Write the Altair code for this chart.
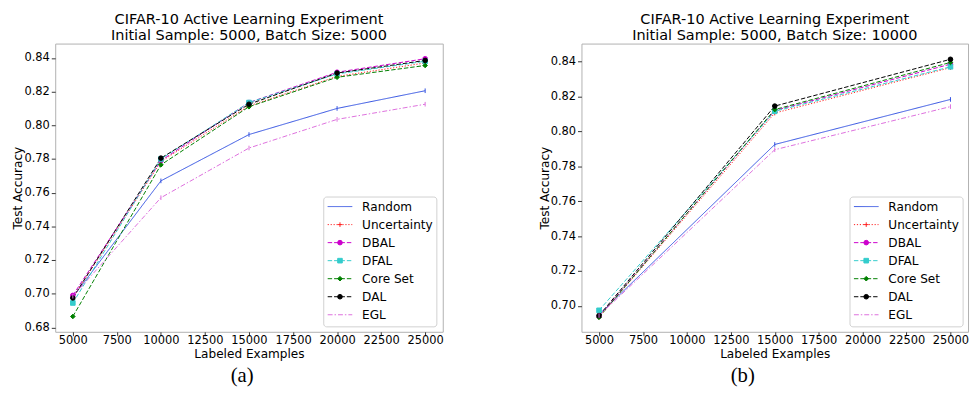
import altair as alt
import pandas as pd

methods = ["Random", "Uncertainty", "DBAL", "DFAL", "Core Set", "DAL", "EGL"]
colors = ["#3050e0", "#ff2020", "#cc00cc", "#33cccc", "#008000", "#000000", "#dd6fdd"]
dashes = [[1, 0], [1.2, 1.8], [4.5, 2], [4.5, 2], [4.5, 2], [4.5, 2], [5, 2, 1.5, 2]]
shapes = ["M0,-1V1", "M-1,0H1M0,-1V1", "circle", "square", "diamond", "circle", "M0,-1V1"]
sizes = [22, 22, 14, 14, 18, 14, 22]

# Panel (a): batch size 5000
x_a = [5000, 10000, 15000, 20000, 25000]
a_random = [0.6980, 0.7670, 0.7945, 0.8100, 0.8205]
a_uncertainty = [0.6975, 0.7785, 0.8115, 0.8290, 0.8370]
a_dbal = [0.6990, 0.7790, 0.8135, 0.8315, 0.8395]
a_dfal = [0.6945, 0.7800, 0.8135, 0.8305, 0.8380]
a_coreset = [0.6865, 0.7765, 0.8110, 0.8285, 0.8355]
a_dal = [0.6975, 0.7805, 0.8125, 0.8310, 0.8385]
a_egl = [0.6985, 0.7570, 0.7865, 0.8035, 0.8125]

# Panel (b): batch size 10000
x_b = [5000, 15000, 25000]
b_random = [0.6950, 0.7925, 0.8183]
b_uncertainty = [0.6935, 0.8105, 0.8365]
b_dbal = [0.6940, 0.8120, 0.8385]
b_dfal = [0.6975, 0.8115, 0.8370]
b_coreset = [0.6935, 0.8125, 0.8395]
b_dal = [0.6945, 0.8145, 0.8413]
b_egl = [0.6945, 0.7895, 0.8142]

x_ticks = [5000, 7500, 10000, 12500, 15000, 17500, 20000, 22500, 25000]
y_ticks_a = [0.68, 0.70, 0.72, 0.74, 0.76, 0.78, 0.80, 0.82, 0.84]
y_ticks_b = [0.70, 0.72, 0.74, 0.76, 0.78, 0.80, 0.82, 0.84]

titles_a = ["CIFAR-10 Active Learning Experiment", "Initial Sample: 5000, Batch Size: 5000"]
titles_b = ["CIFAR-10 Active Learning Experiment", "Initial Sample: 5000, Batch Size: 10000"]


def long_df(xs, series):
    rows = []
    for name, vals in zip(methods, series):
        for x, v in zip(xs, vals):
            rows.append({"method": name, "examples": x, "acc": v})
    return pd.DataFrame(rows)


df_a = long_df(x_a, [a_random, a_uncertainty, a_dbal, a_dfal, a_coreset, a_dal, a_egl])
df_b = long_df(x_b, [b_random, b_uncertainty, b_dbal, b_dfal, b_coreset, b_dal, b_egl])
legend_df = pd.DataFrame({"method": methods, "i": list(range(len(methods)))})

color_scale = alt.Scale(domain=methods, range=colors)
dash_scale = alt.Scale(domain=methods, range=dashes)
shape_scale = alt.Scale(domain=methods, range=shapes)
size_scale = alt.Scale(domain=methods, range=sizes)

FONT = "DejaVu Sans"


def panel(df, titles, ydomain, yticks, width, height, caption, cap_x):
    xenc = alt.X(
        "examples:Q",
        scale=alt.Scale(domain=[4000, 26000], nice=False, zero=False),
        axis=alt.Axis(values=x_ticks, format="d", title="Labeled Examples",
                      labelPadding=-1, labelOverlap=False,
                      titleY=22, titleBaseline="middle"),
    )
    yenc = alt.Y(
        "acc:Q",
        scale=alt.Scale(domain=ydomain, nice=False, zero=False),
        axis=alt.Axis(values=yticks, tickCount=len(yticks), format=".2f",
                      title="Test Accuracy", labelOverlap=False, labelSeparation=0,
                      labelBound=False,
                      titleX=-38, titleY=height / 2, titleBaseline="middle"),
    )
    col = alt.Color("method:N", scale=color_scale, legend=None)
    base = alt.Chart(df)
    lines = base.mark_line(strokeWidth=1.0).encode(
        x=xenc, y=yenc, color=col,
        strokeDash=alt.StrokeDash("method:N", scale=dash_scale, legend=None),
    )
    pts = base.mark_point(filled=True, strokeWidth=1, opacity=1).encode(
        x="examples:Q", y="acc:Q", color=col,
        stroke=alt.Stroke("method:N", scale=color_scale, legend=None),
        shape=alt.Shape("method:N", scale=shape_scale, legend=None),
        size=alt.Size("method:N", scale=size_scale, legend=None),
    )
    lbase = alt.Chart(legend_df).transform_calculate(ly="165.7 + datum.i * 18.33")
    ly = alt.Y("ly:Q", scale=None)
    box = alt.Chart(pd.DataFrame({"k": [0]})).mark_rect(
        fill="white", fillOpacity=0.85, stroke="#d0d0d0", strokeWidth=1, cornerRadius=3
    ).encode(x=alt.value(273), x2=alt.value(388), y=alt.value(156), y2=alt.value(288))
    lrules = lbase.mark_rule(strokeWidth=1.0).encode(
        x=alt.value(277), x2=alt.value(302), y=ly, color=col,
        strokeDash=alt.StrokeDash("method:N", scale=dash_scale, legend=None),
    )
    lpts = lbase.transform_filter(
        "datum.method != 'Random' && datum.method != 'EGL'"
    ).mark_point(filled=True, strokeWidth=1, opacity=1).encode(
        x=alt.value(289.5), y=ly, color=col,
        stroke=alt.Stroke("method:N", scale=color_scale, legend=None),
        shape=alt.Shape("method:N", scale=shape_scale, legend=None),
        size=alt.Size("method:N", scale=size_scale, legend=None),
    )
    ltext = lbase.mark_text(align="left", baseline="middle", fontSize=12.3, font=FONT,
                            color="black").encode(x=alt.value(312), y=ly, text="method:N")
    cap = alt.Chart(pd.DataFrame({"cap": [caption]})).mark_text(
        font="Liberation Serif", fontSize=21, color="black", baseline="middle"
    ).encode(x=alt.value(cap_x), y=alt.value(338), text="cap:N")
    return alt.layer(lines, pts, box, lrules, lpts, ltext, cap).properties(
        width=width, height=height,
        title=alt.TitleParams(text=titles, fontSize=14.7, fontWeight="normal", font=FONT,
                              color="black", anchor="middle", offset=0.5, lineHeight=16.5),
    )


left = panel(df_a, titles_a, [0.6774, 0.8485], y_ticks_a, 394, 293, "(a)", 190)
right = panel(df_b, titles_b, [0.6852, 0.8503], y_ticks_b, 393, 293, "(b)", 164)

chart = alt.hconcat(left, right, spacing=94).properties(
    padding={"left": 3, "top": 0, "right": 0, "bottom": 0}
).configure_view(stroke="#b0b0b0", strokeWidth=1).configure_axis(
    grid=False, domain=False, tickColor="#333333", tickSize=4, labelPadding=2,
    labelOverlap=False,
    labelFont=FONT, labelFontSize=11.6, labelColor="black",
    titleFont=FONT, titleFontSize=12.3, titleFontWeight="normal", titleColor="black",
)

chart.save("out.html", embed_options={"renderer": "svg", "actions": False})
